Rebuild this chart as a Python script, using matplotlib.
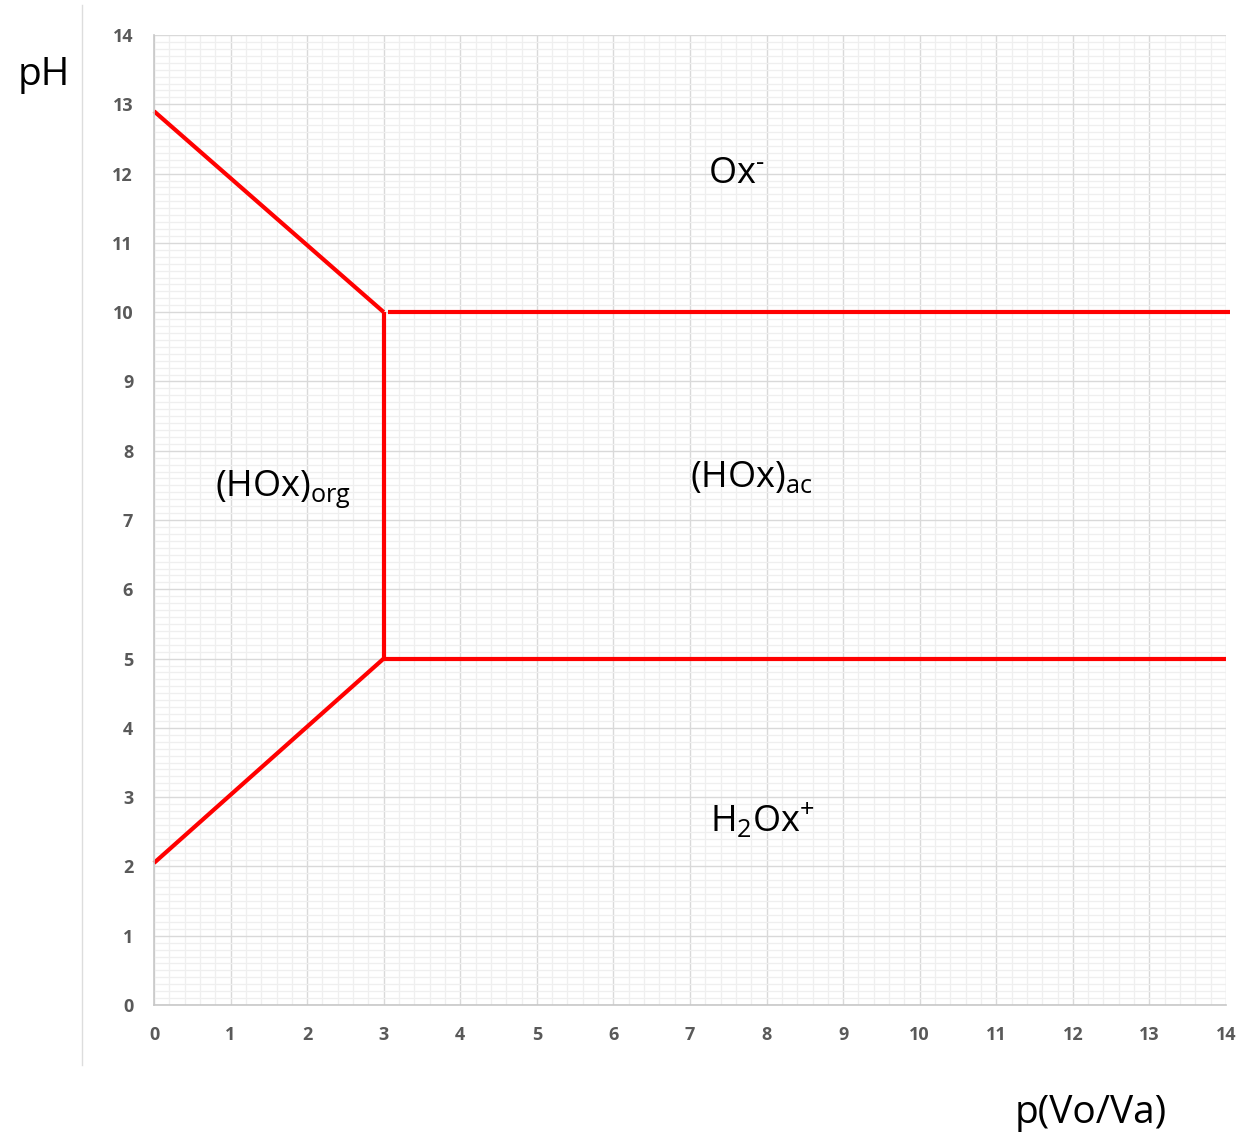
import matplotlib
matplotlib.use("Agg")
import matplotlib.pyplot as plt
import numpy as np
from matplotlib.ticker import MultipleLocator

# Data: boundary segments (x = p(Vo/Va), y = pH)
seg_upper_left_x = [0, 3]
seg_upper_left_y = [12.9, 10]
seg_lower_left_x = [0, 3]
seg_lower_left_y = [2.05, 5]
seg_vertical_x = [3, 3]
seg_vertical_y = [10, 5]
seg_upper_right_x = [3.05, 14.05]
seg_upper_right_y = [10, 10]
seg_lower_right_x = [3, 14]
seg_lower_right_y = [5, 5]

labels = ["Ox$^{\\mathregular{\u2010}}$", "(HOx)$_{\\mathregular{org}}$", "(HOx)$_{\\mathregular{ac}}$", "H$_{\\mathregular{2}}$Ox$^{+}$"]
label_x = [7.6, 1.68, 7.8, 7.95]
label_y = [12.0, 7.45, 7.6, 2.65]

plt.rcParams['font.family'] = ['Open Sans', 'DejaVu Sans']
plt.rcParams['mathtext.fontset'] = 'custom'
plt.rcParams['mathtext.rm'] = 'Open Sans'
plt.rcParams['mathtext.it'] = 'Open Sans'

W, H = 1245, 1137
fig = plt.figure(figsize=(W / 100, H / 100), dpi=100)
ax = fig.add_axes([154 / W, 1 - 1005 / H, (1226 - 154) / W, (1005 - 35) / H])

ax.set_xlim(0, 14)
ax.set_ylim(0, 14)
ax.xaxis.set_major_locator(MultipleLocator(1))
ax.yaxis.set_major_locator(MultipleLocator(1))
ax.xaxis.set_minor_locator(MultipleLocator(0.2))
ax.yaxis.set_minor_locator(MultipleLocator(0.1))
ax.grid(which='major', color='#d9d9d9', linewidth=1.0)
ax.grid(which='minor', color='#efefef', linewidth=0.9)
ax.set_axisbelow(True)
for s in ['top', 'right']:
    ax.spines[s].set_visible(False)
for s in ['left', 'bottom']:
    ax.spines[s].set_color('#c8c8c8')
    ax.spines[s].set_linewidth(1.2)
ax.tick_params(which='both', length=0)
ax.tick_params(axis='x', pad=15)
ax.tick_params(axis='y', pad=15)
for lab in ax.get_xticklabels() + ax.get_yticklabels():
    lab.set_fontweight('bold')
    lab.set_color('#595959')
    lab.set_fontsize(13)

red = '#ff0000'
lw = 3.0
for xs, ys in [(seg_upper_left_x, seg_upper_left_y), (seg_lower_left_x, seg_lower_left_y),
               (seg_vertical_x, seg_vertical_y), (seg_upper_right_x, seg_upper_right_y),
               (seg_lower_right_x, seg_lower_right_y)]:
    ax.plot(xs, ys, color=red, linewidth=lw, solid_capstyle='butt', clip_on=False)

for t, x, y in zip(labels, label_x, label_y):
    ax.text(x, y, t, fontsize=26, ha='center', va='center', color='black')

fig.text(44 / W, 1 - 75 / H, 'pH', fontsize=28, ha='center', va='center')
fig.text(1091 / W, 1 - 1113 / H, 'p(Vo/Va)', fontsize=28, ha='center', va='center')

# faint border line on the left
fig.add_artist(plt.Line2D([82 / W, 82 / W], [1 - 5 / H, 1 - 1065 / H], color='#dddddd', linewidth=1))

fig.savefig('out.png', dpi=100)
